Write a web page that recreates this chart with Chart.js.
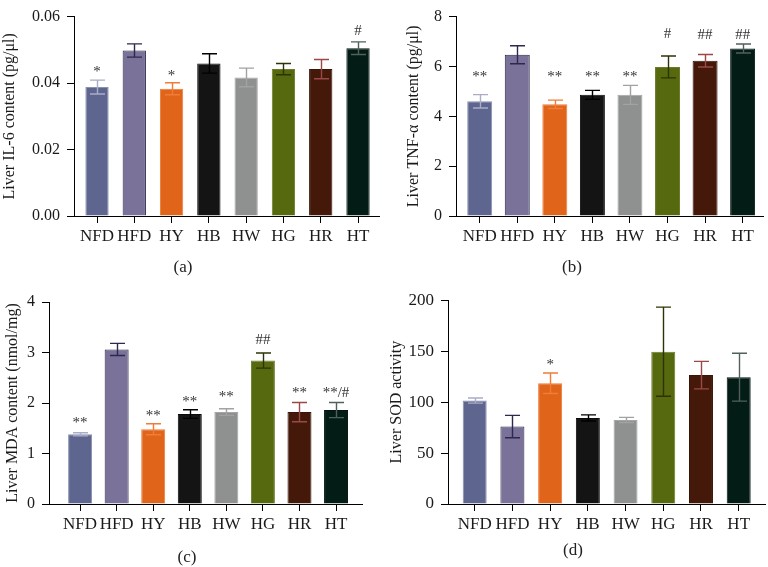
<!DOCTYPE html>
<html>
<head>
<meta charset="utf-8">
<script src="https://cdn.jsdelivr.net/npm/chart.js@4.4.0/dist/chart.umd.min.js"></script>
<style>
  body { margin: 0; background: #fff; width: 768px; height: 567px; position: relative; overflow: hidden; font-family: "Liberation Serif", "Times New Roman", serif; }
  canvas { position: absolute; }
  .cap { position: absolute; font-size: 17px; color: #222; transform: translate(-50%, -50%); }
</style>
</head>
<body>
<canvas id="chartA" width="384" height="283" style="left:0;top:0"></canvas>
<canvas id="chartB" width="384" height="283" style="left:384px;top:0"></canvas>
<canvas id="chartC" width="384" height="284" style="left:0;top:283px"></canvas>
<canvas id="chartD" width="384" height="284" style="left:384px;top:283px"></canvas>
<div class="cap" style="left:183px;top:267px">(a)</div>
<div class="cap" style="left:572px;top:267px">(b)</div>
<div class="cap" style="left:187px;top:557px">(c)</div>
<div class="cap" style="left:573px;top:550px">(d)</div>

<script>
// groups on the x axis
const groups = ["NFD", "HFD", "HY", "HB", "HW", "HG", "HR", "HT"]

// (a) IL-6
const il6Mean = [0.0388, 0.0498, 0.0383, 0.0459, 0.0417, 0.0442, 0.0442, 0.0505]
const il6Err = [0.0021, 0.0020, 0.0018, 0.0029, 0.0028, 0.0017, 0.0029, 0.0019]
const il6Sig = ["*", "", "*", "", "", "", "", "#"]
const il6SigY = [0.0434, null, 0.0421, null, null, null, null, 0.0555]

// (b) TNF-alpha
const tnfMean = [4.60, 6.47, 4.48, 4.86, 4.86, 5.98, 6.23, 6.72]
const tnfErr = [0.27, 0.36, 0.17, 0.18, 0.38, 0.44, 0.25, 0.18]
const tnfSig = ["**", "", "**", "**", "**", "#", "##", "##"]
const tnfSigY = [5.59, null, 5.59, 5.59, 5.59, 7.29, 7.25, 7.25]

// (c) MDA
const mdaMean = [1.38, 3.06, 1.48, 1.78, 1.82, 2.84, 1.82, 1.86]
const mdaErr = [0.03, 0.12, 0.11, 0.085, 0.065, 0.15, 0.19, 0.15]
const mdaSig = ["**", "", "**", "**", "**", "##", "**", "**/#"]
const mdaSigY = [1.6, null, 1.75, 2.02, 2.11, 3.25, 2.2, 2.2]

// (d) SOD
const sodMean = [101.5, 76, 118.5, 84.5, 82.5, 149.5, 126.5, 124.5]
const sodErr = [2.5, 11, 10, 3, 2.5, 43.7, 13.5, 23.5]
const sodSig = ["", "", "*", "", "", "", "", ""]
const sodSigY = [null, null, 136.6, null, null, null, null, null]

// bar colours
const fillColors = ["#5e6690", "#7a7298", "#e0651b", "#141414", "#8e918f", "#56690e", "#44190a", "#031d16"]
const edgeColors = ["#8a90b0", "#2a2548", "#ee7a34", "#0a0a0a", "#a4a6a4", "#6a7c28", "#3a1408", "#02140f"]
const errColors = ["#a9adc6", "#2d2850", "#f07c38", "#000000", "#a2a2a2", "#2c3405", "#9a4848", "#50605a"]

Chart.defaults.font.family = '"Liberation Serif", "Times New Roman", serif'
Chart.defaults.color = "#1a1a1a"

const errorBars = {
  id: "errorBars",
  afterDatasetsDraw(chart) {
    const ds = chart.data.datasets[0]
    const meta = chart.getDatasetMeta(0)
    const y = chart.scales.y
    const ctx = chart.ctx
    ctx.save()
    ctx.lineWidth = 1.4
    ds.data.forEach((pt, i) => {
      const cx = Math.round(meta.data[i].x) + 0.5
      const top = y.getPixelForValue(pt.y + ds.errors[i])
      const bot = y.getPixelForValue(pt.y - ds.errors[i])
      ctx.strokeStyle = errColors[i]
      ctx.beginPath()
      ctx.moveTo(cx, top)
      ctx.lineTo(cx, bot)
      ctx.moveTo(cx - 7.5, top)
      ctx.lineTo(cx + 7.5, top)
      ctx.moveTo(cx - 7.5, bot)
      ctx.lineTo(cx + 7.5, bot)
      ctx.stroke()
    })
    ctx.fillStyle = "#333"
    ctx.font = '15px "Liberation Serif", serif'
    ctx.textAlign = "center"
    ctx.textBaseline = "middle"
    ds.sig.forEach((s, i) => {
      if (!s) return
      ctx.fillText(s, meta.data[i].x, y.getPixelForValue(ds.sigY[i]))
    })
    ctx.restore()
  },
}

function makeChart(id, p) {
  new Chart(document.getElementById(id), {
    type: "bar",
    data: {
      datasets: [
        {
          data: p.mean.map((v, i) => ({ x: i, y: v })),
          errors: p.err,
          sig: p.sig,
          sigY: p.sigY,
          backgroundColor: fillColors,
          borderColor: edgeColors,
          borderWidth: 1,
          barPercentage: p.barPct,
          categoryPercentage: 1,
        },
      ],
    },
    options: {
      responsive: false,
      animation: false,
      devicePixelRatio: 1,
      layout: { padding: { left: p.padL, top: p.padT, right: p.padR, bottom: 0 } },
      plugins: { legend: { display: false }, tooltip: { enabled: false } },
      scales: {
        x: {
          type: "linear",
          offset: false,
          min: p.xMin,
          max: p.xMax,
          afterBuildTicks: (s) => { s.ticks = groups.map((_, i) => ({ value: i })) },
          afterFit: (s) => { s.height = p.xH },
          grid: { offset: false, drawOnChartArea: false, color: "#000", tickLength: 7 },
          border: { color: "#000", width: 1 },
          ticks: {
            autoSkip: false,
            maxRotation: 0,
            padding: 3,
            font: { size: 17 },
            callback: (v, i) => groups[i],
          },
        },
        y: {
          min: 0,
          max: p.yMax,
          afterFit: (s) => { s.width = p.yW },
          grid: { drawOnChartArea: false, color: "#000", tickLength: 7 },
          border: { color: "#000", width: 1 },
          ticks: { stepSize: p.step, padding: 7, font: { size: p.tickSize }, callback: p.fmt },
          title: { display: true, text: p.title, font: { size: 16 }, padding: { top: 0, bottom: 0 } },
        },
      },
    },
    plugins: [errorBars],
  })
}

makeChart("chartA", {
  mean: il6Mean, err: il6Err, sig: il6Sig, sigY: il6SigY,
  title: "Liver IL-6 content (pg/μl)", yMax: 0.06, step: 0.02, fmt: (v) => v.toFixed(2),
  padL: 0, padT: 9.5, padR: 5, yW: 74, xH: 67, xMin: -0.617, xMax: 7.563, barPct: 0.625, tickSize: 16,
})
makeChart("chartB", {
  mean: tnfMean, err: tnfErr, sig: tnfSig, sigY: tnfSigY,
  title: "Liver TNF-α content (pg/μl)", yMax: 8, step: 2, fmt: (v) => v,
  padL: 20, padT: 9, padR: 4.7, yW: 52, xH: 67, xMin: -0.631, xMax: 7.55, barPct: 0.665, tickSize: 16,
})
makeChart("chartC", {
  mean: mdaMean, err: mdaErr, sig: mdaSig, sigY: mdaSigY,
  title: "Liver MDA content (nmol/mg)", yMax: 4, step: 1, fmt: (v) => v,
  padL: 3, padT: 19, padR: 22, yW: 46, xH: 63, xMin: -0.85, xMax: 7.71, barPct: 0.656, tickSize: 16,
})
makeChart("chartD", {
  mean: sodMean, err: sodErr, sig: sodSig, sigY: sodSigY,
  title: "Liver SOD activity", yMax: 200, step: 50, fmt: (v) => v,
  padL: 3, padT: 17, padR: 2.3, yW: 61, xH: 63, xMin: -0.708, xMax: 7.716, barPct: 0.636, tickSize: 17,
})
</script>
</body>
</html>
